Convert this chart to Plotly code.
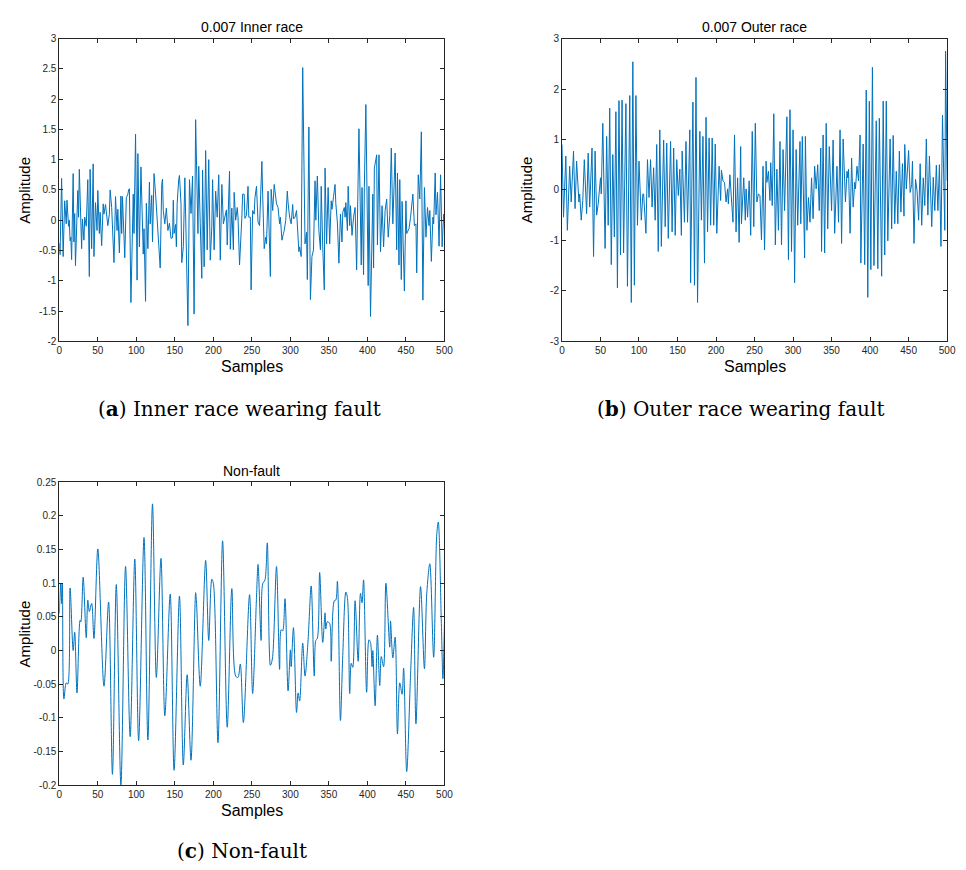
import plotly.graph_objects as go

# ---------------- data ----------------
inner_x = [0, 1, 3, 5, 7, 9, 10, 12, 13, 14, 15, 16, 18, 19, 20, 21, 24, 25, 26, 29, 30, 32, 33, 35, 37, 39, 40, 42, 44, 45,
           47, 49, 50, 52, 53, 55, 57, 58, 60, 61, 63, 65, 66, 68, 69, 71, 73, 75, 76, 78, 80, 81, 82, 84, 85, 87, 89, 90, 91, 93,
           95, 96, 97, 99, 101, 102, 104, 106, 109, 110, 112, 113, 115, 117, 118, 120, 121, 123, 125, 127, 130, 131, 133, 134, 135,
           137, 139, 141, 143, 145, 147, 148, 149, 151, 152, 153, 155, 156, 158, 159, 161, 163, 167, 169, 171, 173, 175, 177, 180,
           181, 183, 185, 186, 188, 190, 192, 194, 196, 198, 199, 201, 203, 205, 207, 209, 211, 213, 215, 217, 218, 221, 222, 224,
           226, 227, 229, 231, 232, 234, 237, 238, 240, 241, 243, 245, 246, 248, 249, 251, 253, 254, 256, 258, 260, 262, 263, 264,
           266, 268, 269, 271, 272, 274, 275, 277, 279, 280, 282, 284, 286, 287, 289, 291, 292, 294, 296, 297, 299, 301, 303, 304,
           306, 308, 309, 311, 312, 314, 316, 318, 319, 321, 322, 324, 326, 328, 330, 332, 333, 335, 337, 339, 340, 342, 344, 345,
           347, 349, 351, 353, 354, 356, 358, 359, 361, 363, 365, 367, 368, 370, 371, 372, 374, 375, 377, 378, 380, 382, 384, 386,
           389, 392, 393, 395, 396, 398, 401, 402, 404, 407, 408, 409, 412, 413, 415, 417, 419, 421, 423, 425, 427, 429, 431, 433,
           436, 438, 439, 441, 442, 444, 445, 448, 450, 451, 454, 456, 459, 461, 463, 464, 466, 468, 470, 472, 474, 476, 478, 480,
           481, 483, 485, 486, 488, 489, 491, 493, 495, 497, 499, 500]
inner_y = [-0.38, -0.57, 0.69, -0.6, 0.32, -0.06, 0.33, -0.1, 0.0, -0.34, -0.28, -0.65, 0.77, -0.36, 0.11, -0.75, 0.49, 0.05, 0.84, -0.47,
           0.02, -0.33, 0.05, -0.1, 0.67, -0.93, 0.84, -0.47, 0.93, -0.6, 0.29, -0.17, 0.49, -0.22, 0.13, -0.42, 0.27, 0.1, 0.26, 0.15,
           -0.09, 0.1, 0.5, 0.21, -0.11, -0.7, 0.39, -0.17, 0.18, -0.54, 0.4, -0.22, 0.39, -0.22, -0.62, 0.37, 0.43, 0.5, 0.52, -1.36,
           0.32, 0.43, -0.22, 1.42, -0.99, 1.1, -0.44, 0.88, -0.56, -0.14, -1.34, 0.28, -0.47, 0.63, -0.06, 0.41, -0.36, 0.77, 0.43, 0.02,
           -0.5, -0.79, 0.59, 0.68, 0.16, -0.06, 0.2, -0.17, -0.05, -0.3, -0.29, 0.33, -0.22, -0.07, -0.44, 0.27, 0.67, 0.74, 0.27, -0.7,
           -0.44, 0.7, -1.74, 0.67, 0.11, 0.73, -1.55, 1.66, -0.22, 0.89, -0.06, -0.96, 0.83, -0.77, 1.15, -0.49, 1.0, -0.66, -0.11, 0.67,
           -0.49, 0.48, 0.05, 0.75, -0.66, 0.59, -0.06, 0.08, 0.17, -0.41, 0.81, -0.48, 0.2, -0.49, 0.46, 0.0, 0.21, 0.05, -0.74, 0.05,
           0.43, 0.43, 0.03, 0.08, 0.56, 0.05, 0.05, -1.15, 0.16, 0.1, 0.37, 0.56, -0.03, -0.09, 0.75, 0.97, 0.43, -0.47, -0.28, -0.39,
           0.48, -0.17, -0.93, 0.51, 0.16, 0.59, 0.46, 0.27, 0.21, -0.06, 0.05, -0.33, -0.22, -0.17, 0.0, 0.48, 0.29, 0.05, -0.06, 0.26,
           0.02, 0.05, 0.16, -0.11, -0.52, -0.44, -0.6, 2.52, -0.22, -0.39, -0.2, -0.98, 1.54, -1.31, -0.6, -0.49, 0.65, 0.0, 0.73, -0.17,
           -0.49, 0.56, -0.44, -1.15, 0.86, -0.39, 0.54, -0.39, 0.32, 0.18, 0.39, 0.59, 0.27, -0.03, -0.71, 0.1, -0.36, 0.13, 0.21, 0.05,
           0.29, -0.17, 0.56, -0.09, 0.24, -0.25, 0.05, 0.21, -0.82, 1.51, -0.74, 0.54, -0.9, 0.54, 1.91, -1.08, 0.56, -1.59, 0.43, -0.79,
           0.86, 1.08, -0.41, 1.08, -0.52, 0.24, -0.44, 0.16, 0.35, -0.28, 0.08, 1.19, -0.06, 1.11, -0.49, 0.78, -0.74, 0.67, -0.98, 0.31,
           -1.17, 0.32, -0.22, -0.14, 0.05, 0.43, -0.09, -0.06, -0.87, 0.75, 0.35, 1.46, -1.32, 0.54, -0.28, 0.21, -0.09, 0.16, -0.68, 0.05,
           -0.06, 0.78, 0.09, 0.46, -0.43, 0.75, -0.44, 0.1, 0.05]

outer_x = [0, 2, 5, 7, 10, 12, 15, 17, 19, 22, 23, 25, 27, 29, 32, 34, 36, 39, 41, 43, 45, 47, 50, 51, 53, 56, 58, 60, 62, 64,
           66, 68, 70, 72, 74, 76, 78, 80, 83, 85, 88, 90, 92, 94, 96, 98, 100, 103, 105, 106, 109, 111, 113, 115, 117, 119, 121,
           123, 125, 127, 129, 132, 134, 136, 138, 141, 143, 145, 147, 149, 151, 153, 155, 156, 159, 161, 163, 166, 167, 170, 172,
           174, 176, 179, 181, 183, 185, 187, 189, 191, 193, 195, 197, 199, 201, 204, 206, 207, 209, 211, 213, 215, 216, 218, 220,
           222, 224, 226, 228, 230, 232, 233, 236, 238, 239, 241, 243, 245, 247, 249, 251, 253, 255, 257, 259, 261, 263, 265, 266,
           268, 270, 271, 273, 275, 277, 279, 281, 283, 285, 287, 289, 292, 294, 296, 298, 300, 302, 304, 306, 309, 310, 312, 315,
           316, 318, 320, 322, 324, 326, 328, 330, 332, 334, 336, 337, 339, 341, 343, 345, 347, 350, 352, 354, 357, 359, 361, 363,
           365, 368, 370, 371, 372, 374, 376, 378, 380, 381, 383, 385, 387, 388, 391, 393, 395, 397, 399, 401, 403, 405, 408, 410,
           412, 415, 417, 419, 421, 423, 426, 428, 430, 432, 434, 436, 438, 440, 442, 444, 445, 447, 450, 452, 454, 455, 457, 459,
           461, 463, 465, 467, 469, 471, 473, 475, 477, 480, 482, 484, 486, 488, 490, 492, 494, 497, 498, 500]
outer_y = [0.9, -0.54, 0.67, -0.8, 0.47, -0.24, 0.77, -0.37, 0.57, -0.24, -0.08, -0.6, -0.21, 0.6, -0.47, 0.73, -0.34, 0.83, -1.32, 0.77,
           -0.5, -0.28, 0.24, -0.08, 1.32, -1.16, 1.06, -0.7, 1.62, -1.48, 0.7, -0.93, 1.55, -1.94, 1.77, -1.29, 1.78, -1.25, 1.71, -1.91,
           1.87, -2.23, 2.54, -1.89, 1.87, -0.7, 0.57, -0.6, -0.08, -0.08, -0.86, 0.6, -0.15, 0.6, -0.34, 0.44, -0.6, 0.9, -1.22, 1.19,
           -1.12, 0.99, -0.73, 0.93, -0.96, 0.96, -0.83, 0.83, -0.9, 0.6, -0.11, 0.41, -0.9, 0.77, -0.64, 0.96, -0.64, 1.19, -1.84, 1.74,
           -1.89, 2.23, -2.23, 1.16, -0.6, 1.06, -1.45, 1.44, -0.83, 1.03, -0.7, 1.03, -0.7, 0.91, -0.86, 0.47, -0.21, 0.39, 0.18, 0.15,
           -0.24, 0.02, -0.28, 0.3, -0.18, -0.64, 1.09, -0.83, 0.24, -1.04, 0.86, -0.67, 0.24, -0.6, 0.02, -0.54, 0.18, -0.9, 1.16, -0.73,
           1.32, -0.24, -0.08, -0.11, -0.99, 0.47, -1.19, 0.57, 0.15, 0.37, -0.21, 0.54, -0.31, 1.51, -1.09, 0.41, -0.8, 0.96, -1.09, 0.8,
           -0.41, 1.45, -1.38, 1.59, -1.22, 1.19, -1.84, 0.8, -0.7, 0.96, -0.67, 1.06, -1.35, 1.06, -0.8, -0.15, -0.64, 0.24, -0.57, 0.47,
           0.02, 0.5, -0.41, 0.83, -1.22, 1.09, -1.25, 1.32, -0.77, 0.86, -0.41, 0.99, -0.86, 0.47, -0.64, 1.19, -1.06, 1.01, -0.24, 0.37,
           0.24, 0.41, -0.86, 0.63, -0.34, 0.15, 0.02, 0.47, 0.18, 1.09, -1.45, 0.91, -1.48, 1.98, -2.13, 1.76, -1.58, 2.43, -1.5, 1.37,
           -1.56, 1.42, -1.71, 1.76, -1.29, 1.76, -1.01, 1.01, -0.77, 1.08, -0.67, 0.37, -0.67, 0.77, -0.44, 0.52, -0.52, 0.9, 0.02, 0.78,
           -0.05, 0.11, 0.57, -1.06, 0.21, -0.02, -0.6, 0.52, -0.7, 0.24, -0.31, 1.01, -0.5, 0.67, -0.73, 0.25, -0.41, 0.49, -0.41, 0.5,
           -1.12, 1.48, -0.8, 2.75, 0.18]

normal_x = [0, 2, 3, 4, 6, 9, 11, 14, 18, 20, 23, 27, 28, 31, 35, 37, 39, 42, 45, 50, 58, 64, 69, 74, 80, 86, 92, 98, 103, 110,
            115, 121, 126, 132, 137, 144, 149, 156, 161, 166, 171, 177, 178, 183, 190, 194, 198, 200, 206, 212, 218, 224, 229, 232,
            235, 239, 247, 251, 256, 258, 262, 264, 267, 270, 274, 275, 277, 282, 286, 288, 290, 293, 297, 300, 301, 304, 308, 310,
            312, 316, 319, 323, 327, 331, 333, 335, 338, 342, 345, 346, 348, 351, 353, 357, 359, 361, 362, 365, 368, 372, 374, 377,
            379, 381, 384, 388, 391, 393, 395, 399, 402, 404, 406, 407, 410, 413, 416, 418, 421, 424, 429, 430, 433, 436, 439, 442,
            445, 447, 451, 456, 460, 463, 469, 474, 477, 481, 486, 490, 492, 496, 498, 500]
normal_y = [0.055, 0.1, 0.07, 0.1, -0.072, -0.048, -0.05, 0.093, 0.0, 0.027, -0.063, 0.045, 0.043, 0.109, 0.019, 0.075, 0.058, 0.07,
            0.018, 0.151, -0.053, 0.072, -0.184, 0.098, -0.2, 0.125, -0.128, 0.136, -0.134, 0.168, -0.133, 0.218, -0.04, 0.137, -0.097,
            0.084, -0.178, 0.081, -0.17, -0.036, -0.163, 0.086, 0.074, -0.053, 0.134, 0.015, 0.106, 0.1, -0.137, 0.163, -0.114, 0.092,
            -0.038, -0.04, -0.02, -0.107, 0.083, -0.064, 0.079, 0.128, 0.015, 0.099, 0.105, 0.16, -0.022, -0.02, -0.009, 0.125, -0.028,
            0.031, 0.029, 0.077, -0.06, 0.001, -0.024, 0.034, -0.092, -0.063, -0.075, 0.011, -0.038, 0.016, 0.096, -0.038, 0.015, 0.018,
            0.116, 0.012, 0.056, 0.032, 0.043, 0.04, -0.016, 0.074, 0.075, 0.103, 0.079, -0.104, -0.007, 0.087, 0.079, -0.064, -0.019,
            -0.025, 0.074, -0.016, 0.085, 0.071, 0.105, -0.062, 0.016, 0.012, -0.024, 0.0, -0.082, 0.023, -0.052, -0.009, -0.024, 0.1,
            0.005, 0.044, -0.011, 0.02, -0.124, -0.048, -0.065, -0.026, -0.18, -0.036, 0.064, -0.109, 0.095, -0.027, 0.084, 0.129,
            -0.01, 0.172, 0.191, 0.04, -0.042, 0.042]

x_ticks = [0, 50, 100, 150, 200, 250, 300, 350, 400, 450, 500]
y_ticks_a = [-2, -1.5, -1, -0.5, 0, 0.5, 1, 1.5, 2, 2.5, 3]
y_ticks_b = [-3, -2, -1, 0, 1, 2, 3]
y_ticks_c = [-0.2, -0.15, -0.1, -0.05, 0, 0.05, 0.1, 0.15, 0.2, 0.25]

titles = ["0.007 Inner race", "0.007 Outer race", "Non-fault"]
captions = ["(<b>a</b>) Inner race wearing fault", "(<b>b</b>) Outer race wearing fault", "(<b>c</b>) Non-fault"]

# ---------------- layout helpers ----------------
W, H = 966, 870
def px(xp):
    return xp / W
def py(yp):
    return 1 - yp / H

LINE = "#0072BD"
AX = "#262626"
SANS = "Liberation Sans, Arial, sans-serif"
SERIF = "DejaVu Serif, serif"

fig = go.Figure()
fig.add_trace(go.Scatter(x=inner_x, y=inner_y, mode="lines", line=dict(color=LINE, width=1), xaxis="x", yaxis="y", showlegend=False))
fig.add_trace(go.Scatter(x=outer_x, y=outer_y, mode="lines", line=dict(color=LINE, width=1), xaxis="x2", yaxis="y2", showlegend=False))
fig.add_trace(go.Scatter(x=normal_x, y=normal_y, mode="lines", line=dict(color=LINE, width=1, shape="spline", smoothing=0.9),
                         xaxis="x3", yaxis="y3", showlegend=False))

boxes = [(57, 447, 33, 340), (566, 956, 33, 340), (57, 447, 483, 790)]

def xax(dom, anchor):
    return dict(domain=dom, anchor=anchor, range=[0, 500], tickvals=x_ticks, ticks="inside", ticklen=4, tickcolor=AX,
                mirror="ticks", showline=True, linecolor=AX, linewidth=1, showgrid=False, zeroline=False,
                tickfont=dict(family=SANS, size=10, color=AX))

def yax(dom, anchor, rng, tv):
    return dict(domain=dom, anchor=anchor, range=rng, tickvals=tv, ticktext=[f"{v:g}" for v in tv], ticks="inside", ticklen=4,
                tickcolor=AX, mirror="ticks", showline=True, linecolor=AX, linewidth=1, showgrid=False, zeroline=False,
                tickfont=dict(family=SANS, size=10, color=AX))

(a, b, c) = boxes
fig.update_layout(
    width=W, height=H, margin=dict(l=0, r=0, t=0, b=0), paper_bgcolor="white", plot_bgcolor="white",
    xaxis=xax([px(a[0]), px(a[1])], "y"), yaxis=yax([py(a[3]), py(a[2])], "x", [-2, 3], y_ticks_a),
    xaxis2=xax([px(b[0]), px(b[1])], "y2"), yaxis2=yax([py(b[3]), py(b[2])], "x2", [-3, 3], y_ticks_b),
    xaxis3=xax([px(c[0]), px(c[1])], "y3"), yaxis3=yax([py(c[3]), py(c[2])], "x3", [-0.2, 0.25], y_ticks_c),
)

ann = []
cap_pos = [(239, 409), (747, 409), (242, 857)]
for (x0, x1, y0, y1), t, cap, cp in zip(boxes, titles, captions, cap_pos):
    cx = (x0 + x1) / 2
    ann.append(dict(text=t, x=px(cx), y=py(y0 - 12), xref="paper", yref="paper", showarrow=False,
                    font=dict(family=SANS, size=14, color="black"), xanchor="center", yanchor="middle"))
    ann.append(dict(text="Samples", x=px(cx), y=py(y1 + 26), xref="paper", yref="paper", showarrow=False,
                    font=dict(family=SANS, size=16, color="black"), xanchor="center", yanchor="middle"))
    ann.append(dict(text="Amplitude", x=px(x0 - 35), y=py((y0 + y1) / 2), xref="paper", yref="paper", showarrow=False,
                    textangle=-90, font=dict(family=SANS, size=15, color="black"), xanchor="center", yanchor="middle"))
    ann.append(dict(text=cap, x=px(cp[0]), y=py(cp[1]), xref="paper", yref="paper", showarrow=False,
                    font=dict(family=SERIF, size=20, color="black"), xanchor="center", yanchor="middle"))
fig.update_layout(annotations=ann)

post = ("document.documentElement.style.overflow='hidden';"
        "document.body.style.margin='0';document.body.style.overflow='hidden';"
        "var d=document.getElementById('{plot_id}');d.style.position='fixed';d.style.left='0px';d.style.top='0px';")
fig.write_html("out.html", config={"displayModeBar": False}, post_script=post)
